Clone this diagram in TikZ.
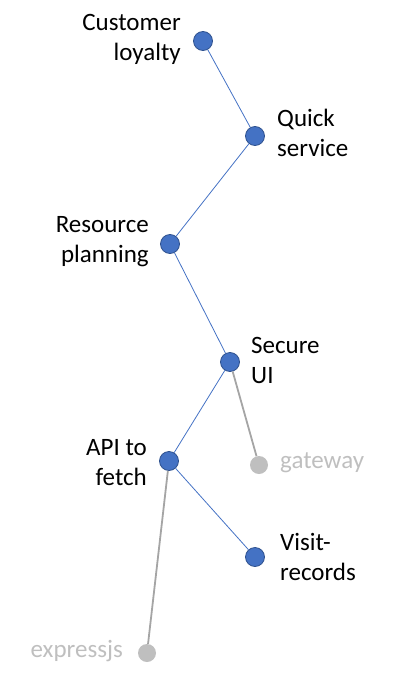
\documentclass[tikz,border=0pt]{standalone}
\usepackage{fontspec}
\setmainfont{Carlito}
\definecolor{dotblue}{HTML}{4472C4}
\definecolor{dotedge}{HTML}{2F528F}
\definecolor{fadegray}{HTML}{BFBFBF}
\definecolor{linegray}{HTML}{A5A5A5}

\begin{document}
\begin{tikzpicture}[x=1pt,y=-1pt]
        \useasboundingbox (0,0) rectangle (405,680);

        \begin{scope}[every node/.style={circle,draw=dotedge,fill=dotblue,thick,minimum size=19pt,inner sep=0pt}]
            \node (loyalty) at (203,41) {};
            \node (quick) at (255,136) {};
            \node (resource) at (170,244) {};
            \node (secure) at (230,362) {};
            \node (api) at (169,461) {};
            \node (visit) at (255,557) {};
        \end{scope}

        \begin{scope}[every node/.style={circle,fill=fadegray,minimum size=18pt,inner sep=0pt}]
            \node (gateway) at (259,465) {};
            \node (express) at (147,653) {};
        \end{scope}

        \begin{scope}[every node/.style={font=\fontsize{25}{30}\selectfont,inner sep=0pt}]
            \node [anchor=east,align=right] (loyaltytxt) at (181,39) {Customer\\loyalty};
            \node [anchor=west,align=left] (quicktxt) at (277,133) {Quick\\service};
            \node [anchor=east,align=right] (resourcetxt) at (149,242) {Resource\\planning};
            \node [anchor=west,align=left] (securetxt) at (251,360) {Secure\\UI};
            \node [anchor=east,align=right] (apitxt) at (147,463) {API to\\fetch};
            \node [anchor=west,align=left] (visittxt) at (280,557) {Visit-\\records};
            \node [anchor=west,text=fadegray] (gatewaytxt) at (280,463) {gateway};
            \node [anchor=east,text=fadegray] (expresstxt) at (123,651) {expressjs};
        \end{scope}

        \begin{scope}[every edge/.style={draw=dotblue,line width=0.8pt}]
            \path (loyalty) edge (quick);
            \path (quick) edge (resource);
            \path (resource) edge (secure);
            \path (secure) edge (api);
            \path (api) edge (visit);
        \end{scope}

        \begin{scope}[every edge/.style={draw=linegray,line width=1.8pt}]
            \path (secure) edge (gateway);
            \path (api) edge (express);
        \end{scope}

    \end{tikzpicture}
\end{document}
